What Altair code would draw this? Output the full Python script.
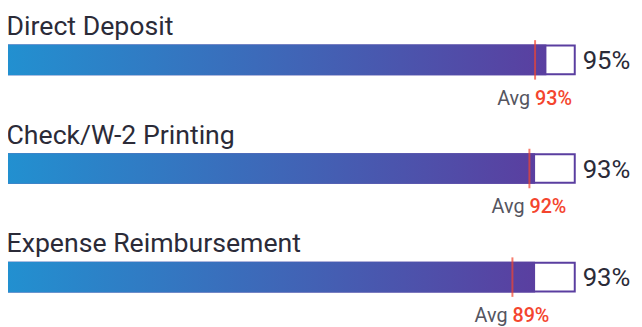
import altair as alt
import pandas as pd

categories = ["Direct Deposit", "Check/W-2 Printing", "Expense Reimbursement"]
values = [95, 93, 93]
averages = [93, 92, 89]

df = pd.DataFrame({
    "cat": categories,
    "value": values,
    "avg": averages,
    "zero": [0] * len(categories),
    "full": [100] * len(categories),
})
df["label"] = df["value"].astype(str) + "%"
df["avglabel"] = df["avg"].astype(str) + "%"
df["avgword"] = "Avg"

PURPLE = "#5a3ea0"
RED = "#f4452e"
DARK = "#2b2b38"
GRAY = "#55555f"
FONT = "Roboto"

xscale = alt.Scale(domain=[0, 100], nice=False, zero=True)
base = alt.Chart(df).encode(
    y=alt.Y("cat:N", sort=categories, scale=alt.Scale(type="point", padding=0.459), axis=None)
)

outline = base.mark_bar(fill="white", stroke=PURPLE, strokeWidth=2, size=29).encode(
    x=alt.X("zero:Q", scale=xscale, axis=None), x2="full:Q"
)

grad = alt.Gradient(
    gradient="linear",
    stops=[alt.GradientStop(color="#2290d0", offset=0), alt.GradientStop(color="#5a3fa0", offset=1)],
    x1=0, x2=1, y1=0, y2=0,
)
fillbar = base.mark_bar(color=grad, size=31).encode(
    x=alt.X("zero:Q", scale=xscale, axis=None), x2="value:Q"
)

tick = base.mark_tick(color=RED, thickness=2, size=40).encode(x=alt.X("avg:Q", scale=xscale, axis=None))

title = base.mark_text(align="left", baseline="alphabetic", dy=-25.2, dx=-1.5, fontSize=27, font=FONT, color=DARK).encode(
    x=alt.X("zero:Q", scale=xscale, axis=None), text="cat:N"
)

valtext = base.mark_text(align="left", baseline="middle", dx=8, dy=1.5, fontSize=26, font=FONT, color=DARK).encode(
    x=alt.X("full:Q", scale=xscale, axis=None), text="label:N"
)

avgword = base.mark_text(align="right", baseline="alphabetic", dx=-5, dy=45.5, fontSize=20, font=FONT, color=GRAY).encode(
    x=alt.X("avg:Q", scale=xscale, axis=None), text="avgword:N"
)
avgval = base.mark_text(align="left", baseline="alphabetic", dx=0, dy=45.5, fontSize=20, font=FONT, fontWeight=500, color=RED).encode(
    x=alt.X("avg:Q", scale=xscale, axis=None), text="avglabel:N"
)

chart = alt.layer(outline, fillbar, tick, title, valtext, avgword, avgval).properties(
    width=574, height=321,
    autosize=alt.AutoSizeParams(type="none"),
    padding={"left": 0, "top": 0, "right": 60, "bottom": 0},
).configure_view(stroke=None)

chart.save("out.html", embed_options={"renderer": "svg", "actions": False})
